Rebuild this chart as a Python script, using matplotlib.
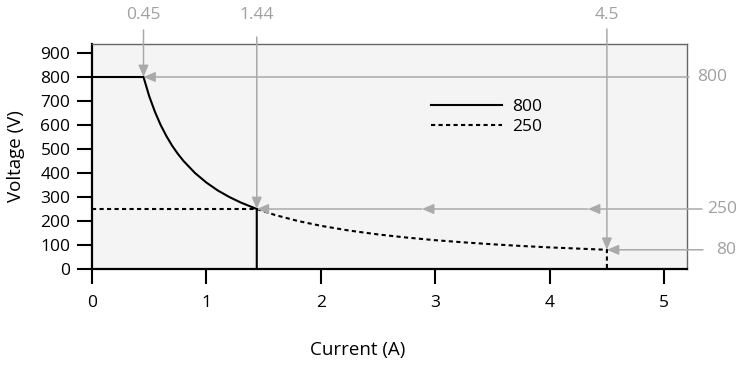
import matplotlib
matplotlib.use("Agg")
import matplotlib.pyplot as plt

# ---- data ----
curve800_current = [0.0, 0.45, 0.5, 0.55, 0.6, 0.65, 0.7, 0.75, 0.8, 0.9, 1.0, 1.1, 1.2, 1.3, 1.44, 1.44]
curve800_voltage = [800, 800, 720, 655, 600, 554, 514, 480, 450, 400, 360, 327, 300, 277, 250, 0]

curve250_current = [0.0, 1.44, 1.6, 1.8, 2.0, 2.25, 2.5, 2.75, 3.0, 3.25, 3.5, 3.75, 4.0, 4.25, 4.5, 4.5]
curve250_voltage = [250, 250, 225, 200, 180, 160, 144, 131, 120, 111, 103, 96, 90, 85, 80, 0]

series_labels = ["800", "250"]

knee_currents = [0.45, 1.44, 4.5]
knee_voltages = [800, 250, 80]
knee_current_labels = ["0.45", "1.44", "4.5"]
knee_voltage_labels = ["800", "250", "80"]

x_ticks = [0, 1, 2, 3, 4, 5]
y_ticks = [0, 100, 200, 300, 400, 500, 600, 700, 800, 900]

# ---- styling ----
plt.rcParams['font.family'] = ['Open Sans', 'DejaVu Sans']
FS = 12.5
LFS = 13.5
GRAY = '#aaaaaa'
TGRAY = '#a0a0a0'

W, H = 744, 368
fig = plt.figure(figsize=(W / 100, H / 100), dpi=100)
L, R, T, B = 92, 687, 44, 269
ax = fig.add_axes([L / W, 1 - B / H, (R - L) / W, (B - T) / H])
ax.set_facecolor('#f4f4f4')
ax.set_xlim(0, 5.2)
ax.set_ylim(0, 937.5)

ax.plot(curve800_current, curve800_voltage, color='black', lw=1.5,
        solid_joinstyle='miter', label=series_labels[0], zorder=3)
ax.plot(curve250_current, curve250_voltage, color='black', lw=1.5,
        dashes=(2, 1.6), label=series_labels[1], zorder=3)

ax.set_xticks(x_ticks)
ax.set_yticks(y_ticks)
ax.tick_params(axis='both', direction='out', length=10.5, width=1.5,
               labelsize=FS, colors='black')
ax.tick_params(axis='x', pad=8)
ax.tick_params(axis='y', pad=5)

for s in ['left', 'bottom']:
    ax.spines[s].set_linewidth(1.6)
    ax.spines[s].set_color('black')
for s in ['top', 'right']:
    ax.spines[s].set_linewidth(1.0)
    ax.spines[s].set_color('#666666')

ax.set_ylabel('Voltage (V)', fontsize=LFS)
ax.yaxis.set_label_coords((16 - L) / (R - L), 0.5)
ax.yaxis.label.set_verticalalignment('center')
ax.set_xlabel('Current (A)', fontsize=LFS)
ax.xaxis.set_label_coords((358 - L) / (R - L), -0.32)

leg = ax.legend(loc='upper left', bbox_to_anchor=((431 - L) / (R - L), (B - 99) / (B - T)),
                frameon=False, fontsize=FS, handlelength=4.1, handletextpad=0.55,
                borderpad=0, borderaxespad=0, labelspacing=0.2)

# ---- annotation arrows ----
aprops = dict(arrowstyle='-|>,head_length=0.7,head_width=0.3', color=GRAY, lw=1.1,
              shrinkA=0, shrinkB=0)


def px2x(px):
    return (px - L) / (R - L) * 5.2


def py2y(py):
    return (B - py) / (B - T) * 937.5


top_starts = [30, 37, 29]
for c, v, lab, ys in zip(knee_currents, knee_voltages, knee_current_labels, top_starts):
    ax.annotate('', xy=(c, v), xytext=(c, py2y(ys)), arrowprops=aprops,
                annotation_clip=False, zorder=4)
    ax.text(c, py2y(15), lab, color=TGRAY, fontsize=FS, ha='center', va='center',
            clip_on=False)

# 800 line
ax.annotate('', xy=(knee_currents[0], knee_voltages[0]), xytext=(px2x(689), knee_voltages[0]),
            arrowprops=aprops, annotation_clip=False, zorder=4)
# 250 line with intermediate arrowheads
stops = [px2x(702), px2x(588), px2x(422), knee_currents[1]]
for a, b in zip(stops[:-1], stops[1:]):
    ax.annotate('', xy=(b, knee_voltages[1]), xytext=(a, knee_voltages[1]),
                arrowprops=aprops, annotation_clip=False, zorder=4)
# 80 line
ax.annotate('', xy=(knee_currents[2], knee_voltages[2]), xytext=(px2x(703), knee_voltages[2]),
            arrowprops=aprops, annotation_clip=False, zorder=4)

label_x = [697, 707, 716]
for v, lab, lx in zip(knee_voltages, knee_voltage_labels, label_x):
    ax.text(px2x(lx), v, lab, color=TGRAY, fontsize=FS, ha='left', va='center',
            clip_on=False)

fig.savefig('out.png', dpi=100)
